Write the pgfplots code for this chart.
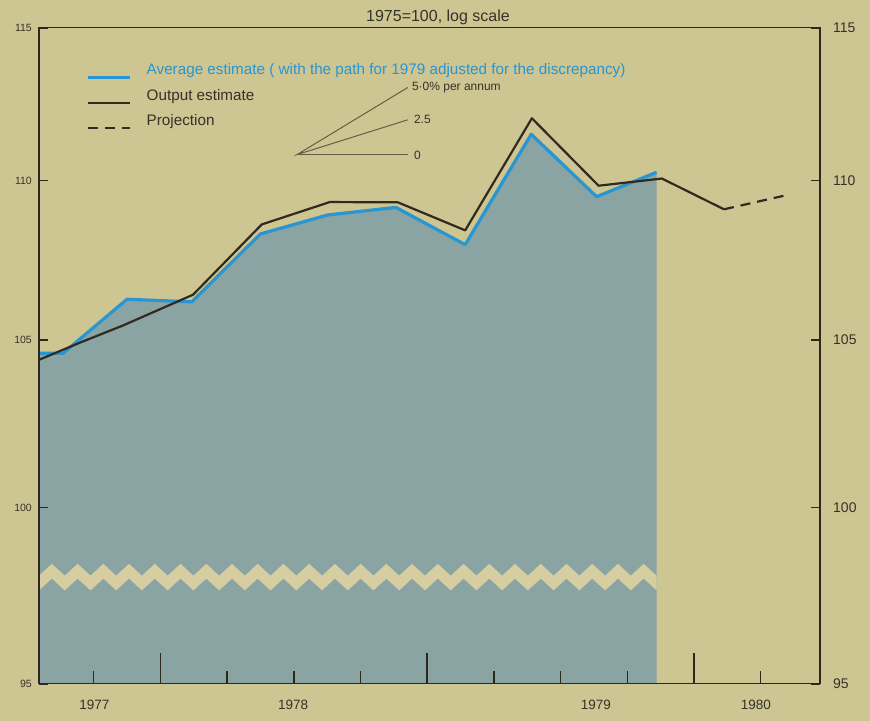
\documentclass[border=0pt]{standalone}
\usepackage{fontspec}
\setmainfont{Liberation Sans}
\usepackage{pgfplots}
\pgfplotsset{compat=1.18}
\definecolor{paper}{RGB}{205,197,146}
\definecolor{band}{RGB}{214,206,160}
\definecolor{fillc}{RGB}{138,163,163}
\definecolor{lblue}{RGB}{40,150,210}
\definecolor{lblack}{RGB}{50,42,30}
\definecolor{fan}{RGB}{105,92,70}
\definecolor{axc}{RGB}{45,40,30}
\definecolor{txt}{RGB}{55,50,40}
\begin{document}
\begin{tikzpicture}
\fill[paper] (-39bp,-37bp) rectangle (831bp,684bp);
\useasboundingbox (-39bp,-37bp) rectangle (831bp,684bp);
\begin{axis}[
  at={(0,0)}, anchor=south west,
  scale only axis, width=781bp, height=656bp,
  xmin=0.18, xmax=11.89, ymode=log, ymin=95, ymax=115,
  axis on top,
  /pgf/number format/assume math mode=true,
  axis line style={axc, line width=1.4bp},
  tick style={axc, line width=1.5bp},
  xtick={1,2,3,4,5,6,7,8,9,10,11}, xticklabels={}, xtick pos=left,
  major tick length=13bp,
  minor xtick={2,6,10}, minor tick length=31bp,
  extra x ticks={1.01,3.99,8.53,10.93},
  extra x tick labels={1977,1978,1979,1980},
  extra x tick style={major tick length=0pt, tick label style={font=\fontsize{13.5bp}{16bp}\selectfont, text=txt, inner sep=0pt, yshift=-16bp}},
  ytick=\empty,
  extra y ticks={95,100,105,110,115},
  extra y tick labels={95,100,105,110,115},
  extra y tick style={major tick length=9bp, tick label style={font=\fontsize{10.5bp}{12bp}\selectfont, text=txt, inner sep=0pt, xshift=-7bp}},
  legend cell align=left,
  legend style={draw=none, fill=none, at={(rel axis cs:0.0568,0.9488)}, anchor=north west,
    font=\fontsize{15.25bp}{18bp}\selectfont, text=txt, row sep=10bp, column sep=15bp,
    nodes={inner sep=0pt, text height=11bp, text depth=3bp}},
  legend image code/.code={\draw[#1] (0bp,-7bp) -- (42bp,-7bp);},
]
% shaded area under the average estimate
\addplot[fill=fillc, draw=none, forget plot] coordinates {
 (0.18,104.6) (0.54,104.6) (1.50,106.26) (2.47,106.18) (3.50,108.3) (4.51,108.9)
 (5.53,109.14) (6.57,107.96) (7.56,111.49) (8.54,109.48) (9.44,110.26) (9.44,95) (0.18,95)};
% broken-axis zigzag band
\addplot[fill=band, draw=none, forget plot] coordinates {
(0.18,98.04) (0.373,98.38) (0.566,98.04) (0.759,98.38) (0.952,98.04) (1.145,98.38) (1.337,98.04) (1.530,98.38) (1.723,98.04) (1.916,98.38) (2.109,98.04) (2.302,98.38) (2.495,98.04) (2.688,98.38) (2.881,98.04) (3.074,98.38) (3.266,98.04) (3.459,98.38) (3.652,98.04) (3.845,98.38) (4.038,98.04) (4.231,98.38) (4.424,98.04) (4.617,98.38) (4.810,98.04) (5.003,98.38) (5.195,98.04) (5.388,98.38) (5.581,98.04) (5.774,98.38) (5.967,98.04) (6.160,98.38) (6.353,98.04) (6.546,98.38) (6.739,98.04) (6.932,98.38) (7.124,98.04) (7.317,98.38) (7.510,98.04) (7.703,98.38) (7.896,98.04) (8.089,98.38) (8.282,98.04) (8.475,98.38) (8.668,98.04) (8.861,98.38) (9.053,98.04) (9.246,98.38) (9.44,98.04)
(9.44,97.62) (9.246,97.96) (9.053,97.62) (8.861,97.96) (8.668,97.62) (8.475,97.96) (8.282,97.62) (8.089,97.96) (7.896,97.62) (7.703,97.96) (7.510,97.62) (7.317,97.96) (7.124,97.62) (6.932,97.96) (6.739,97.62) (6.546,97.96) (6.353,97.62) (6.160,97.96) (5.967,97.62) (5.774,97.96) (5.581,97.62) (5.388,97.96) (5.195,97.62) (5.003,97.96) (4.810,97.62) (4.617,97.96) (4.424,97.62) (4.231,97.96) (4.038,97.62) (3.845,97.96) (3.652,97.62) (3.459,97.96) (3.266,97.62) (3.074,97.96) (2.881,97.62) (2.688,97.96) (2.495,97.62) (2.302,97.96) (2.109,97.62) (1.916,97.96) (1.723,97.62) (1.530,97.96) (1.337,97.62) (1.145,97.96) (0.952,97.62) (0.759,97.96) (0.566,97.62) (0.373,97.96) (0.18,97.62)};
% average estimate
\addplot[lblue, line width=3.2bp, line join=round] coordinates {
 (0.18,104.6) (0.54,104.6) (1.50,106.26) (2.47,106.18) (3.50,108.3) (4.51,108.9)
 (5.53,109.14) (6.57,107.96) (7.56,111.49) (8.54,109.48) (9.44,110.26)};
\addlegendentry{\textcolor{lblue}{Average estimate ( with the path for 1979 adjusted for the discrepancy)}}
% output estimate
\addplot[lblack, line width=2.2bp, line join=round] coordinates {
 (0.18,104.40) (0.80,104.93) (1.44,105.45) (2.49,106.40) (3.52,108.60) (4.54,109.31)
 (5.56,109.30) (6.57,108.41) (7.57,112.01) (8.57,109.83) (9.52,110.06) (10.45,109.08)};
\addlegendentry{Output estimate}
% projection
\addplot[lblack, line width=2.2bp, dash pattern=on 10bp off 7bp] coordinates {
 (10.45,109.08) (11.41,109.54)};
\addlegendentry{Projection}
% growth-rate guide
\addplot[fan, line width=1bp, forget plot] coordinates {(5.71,113.02) (4.05,110.83) (5.71,111.96)};
\addplot[fan, line width=1bp, forget plot] coordinates {(4.05,110.83) (5.71,110.83)};
\node[anchor=west, inner sep=0pt, text=txt, font=\fontsize{12bp}{14bp}\selectfont] at (axis cs:5.77,113.00) {5·0\% per annum};
\node[anchor=west, inner sep=0pt, text=txt, font=\fontsize{12bp}{14bp}\selectfont] at (axis cs:5.80,111.96) {2.5};
\node[anchor=west, inner sep=0pt, text=txt, font=\fontsize{12bp}{14bp}\selectfont] at (axis cs:5.80,110.79) {0};
\end{axis}
\begin{axis}[
  at={(0,0)}, anchor=south west,
  scale only axis, width=781bp, height=656bp,
  xmin=0.18, xmax=11.89, ymode=log, ymin=95, ymax=115,
  axis line style={draw=none},
  xtick=\empty,
  ytick={95,100,105,110,115},
  yticklabels={95,100,105,110,115},
  yticklabel pos=right,
  ytick style={draw=none},
  yticklabel style={font=\fontsize{14bp}{16bp}\selectfont, text=txt, inner sep=0pt, xshift=13bp},
]
\end{axis}
\node[text=txt, inner sep=0pt, font=\fontsize{16bp}{19bp}\selectfont] at (399bp,667bp) {1975=100, log scale};
\end{tikzpicture}
\end{document}
